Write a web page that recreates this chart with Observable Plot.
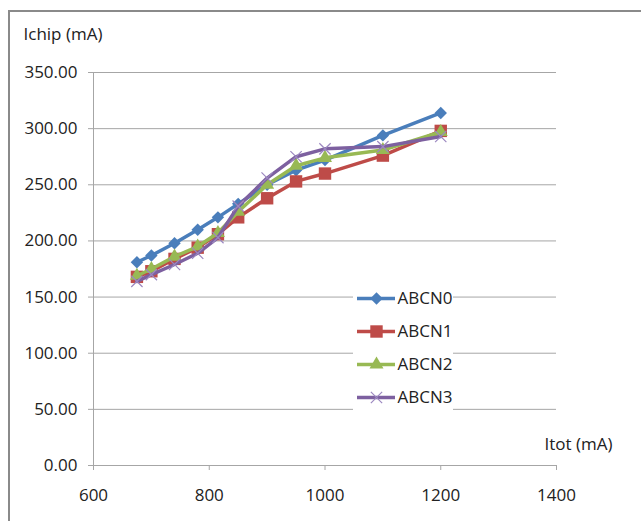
<!DOCTYPE html>
<html>
<head>
<meta charset="utf-8">
<script src="https://cdn.jsdelivr.net/npm/d3@7"></script>
<script src="https://cdn.jsdelivr.net/npm/@observablehq/plot@0.6"></script>
<style>
  body { margin: 0; background: #fff; }
  #wrap { position: relative; width: 641px; height: 521px; overflow: hidden; background: #fff; }
  #frame { position: absolute; left: 8px; top: 10px; width: 700px; height: 600px;
           border-left: 2px solid #8a8a8a; border-top: 2px solid #8a8a8a; }
  #wrap svg { position: absolute; left: 0; top: 0; }
  #wrap svg.legend { left: 353px; top: 280px; background: #fff; }
</style>
</head>
<body>
<div id="wrap"><div id="frame"></div></div>
<script>
const itot = [675, 700, 740, 780, 815, 850, 900, 950, 1000, 1100, 1200];
const abcn0 = [181, 187, 198, 210, 221, 233, 250, 263, 272, 294, 314];
const abcn1 = [168, 173, 184, 194, 206, 221, 238, 253, 260, 276, 298];
const abcn2 = [169, 175, 186, 195, 207, 226, 250, 267, 274, 281, 297];
const abcn3 = [164, 170, 179, 189, 203, 231, 256, 275, 282, 284, 293];
const seriesNames = ["ABCN0", "ABCN1", "ABCN2", "ABCN3"];
const yTicks = [0, 50, 100, 150, 200, 250, 300, 350];
const xTicks = [600, 800, 1000, 1200, 1400];

const seriesValues = [abcn0, abcn1, abcn2, abcn3];
const styles = {
  ABCN0: {line: "#4a7ebb", symbol: "diamond2", r: 5.6, fill: "#4a7ebb", stroke: "none", sw: 0},
  ABCN1: {line: "#be4b48", symbol: "square", r: 7.0, fill: "#be4b48", stroke: "none", sw: 0},
  ABCN2: {line: "#98b954", symbol: "triangle", r: 5.2, fill: "#98b954", stroke: "none", sw: 0},
  ABCN3: {line: "#7d60a0", symbol: "times", r: 5.2, fill: "none", stroke: "#9c88c0", sw: 1.2}
};

const rows = [];
seriesNames.forEach((name, i) => {
  itot.forEach((x, j) => rows.push({series: name, x, y: seriesValues[i][j]}));
});

const font = {fontFamily: "'Open Sans', sans-serif", fontSize: "17px", color: "#222", background: "transparent"};
const axisGray = "#a6a6a6";

const seriesMarks = [];
seriesNames.forEach(name => {
  const d = rows.filter(r => r.series === name);
  const s = styles[name];
  seriesMarks.push(Plot.line(d, {x: "x", y: "y", stroke: s.line, strokeWidth: 3.5, strokeLinejoin: "round"}));
  seriesMarks.push(Plot.dot(d, {x: "x", y: "y", symbol: () => s.symbol, r: s.r, fill: s.fill, stroke: s.stroke, strokeWidth: s.sw}));
});

const chart = Plot.plot({
  width: 641, height: 521,
  marginLeft: 93, marginRight: 85, marginTop: 72, marginBottom: 56,
  x: {domain: [600, 1400]},
  y: {domain: [0, 350]},
  symbol: {type: "identity"},
  style: font,
  marks: [
    Plot.gridY(yTicks.filter(t => t > 0), {stroke: axisGray, strokeOpacity: 1}),
    Plot.ruleX([600], {stroke: axisGray}),
    Plot.ruleY([0], {stroke: axisGray}),
    Plot.axisY(yTicks, {tickSize: 5, tickPadding: 11, tickFormat: d => d.toFixed(2), stroke: axisGray, label: null}),
    Plot.axisX(xTicks, {tickSize: 5, tickPadding: 18, tickFormat: d => String(d), stroke: axisGray, label: null}),
    ...seriesMarks,
    Plot.text(["Ichip (mA)"], {text: d => d, frameAnchor: "top-left", textAnchor: "start", lineAnchor: "bottom", dx: -70, dy: -33}),
    Plot.text(["Itot (mA)"], {text: d => d, frameAnchor: "bottom-right", textAnchor: "end", lineAnchor: "bottom", dx: 56, dy: -16})
  ]
});
document.getElementById("wrap").appendChild(chart);

// Legend
const legendMarks = [];
seriesNames.forEach(name => {
  const s = styles[name];
  const d = [name];
  legendMarks.push(Plot.ruleY(d, {y: n => n, x1: 4, x2: 42, stroke: s.line, strokeWidth: 3.5}));
  legendMarks.push(Plot.dot(d, {x: () => 23, y: n => n, symbol: () => s.symbol, r: s.r, fill: s.fill, stroke: s.stroke, strokeWidth: s.sw}));
  legendMarks.push(Plot.text(d, {x: () => 44, y: n => n, text: n => n, textAnchor: "start"}));
});
const legend = Plot.plot({
  width: 100, height: 134,
  margin: 0,
  x: {domain: [0, 100], range: [0, 100], axis: null},
  y: {type: "point", domain: seriesNames, range: [16.7, 118.3], padding: 0, axis: null},
  symbol: {type: "identity"},
  style: {...font, background: "#fff"},
  marks: legendMarks
});
legend.classList.add("legend");
document.getElementById("wrap").appendChild(legend);
</script>
</body>
</html>
